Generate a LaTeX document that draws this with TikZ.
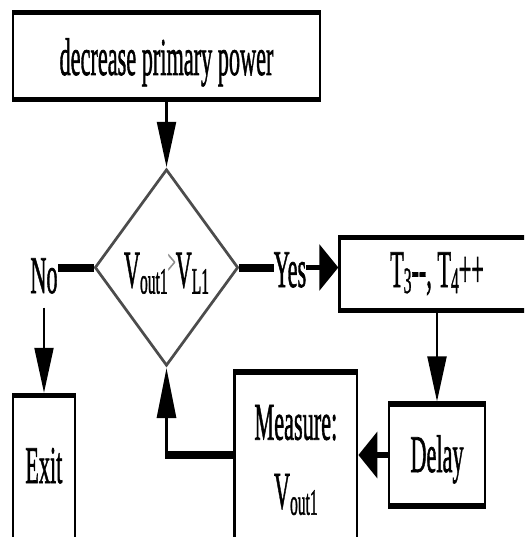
\documentclass[tikz,border=0pt]{standalone}
\usepackage{fontspec}
\setmainfont{Liberation Serif}[FakeBold=1.5]
\usetikzlibrary{arrows.meta,shapes.geometric}
\newcommand{\lowsub}[1]{\raisebox{-6pt}{\fontsize{37}{37}\selectfont #1}}
\begin{document}
\begin{tikzpicture}[x=1pt,y=-1pt]
\useasboundingbox (0,0) rectangle (524,537);
\fill[white] (0,0) rectangle (524,537);
\clip (0,0) rectangle (524,537);
\begin{scope}[transform canvas={xscale=0.42}, x=2.38095pt, y=-1pt,
  every node/.style={font=\fontsize{53}{63}\selectfont, inner sep=0pt},
  box/.style={draw, line width=5.5pt, rectangle, text depth=0pt},
  dec/.style={draw=black!70, line width=4pt, diamond, aspect=1.73},
  thinarrow/.style={line width=6pt, -{Triangle[length=45pt,width=45pt]}},
  thickline/.style={line width=8pt}]
  % nodes
  \node[box, minimum width=729.8pt, minimum height=87pt, text height=38pt] (top) at (166.5,56) {decrease primary power};
  \node[dec, minimum width=340.5pt, minimum height=197pt, text height=40pt, text depth=0pt] (dia) at (166.5,267.5)
    {V\lowsub{out1}{\color{black!45}\raisebox{14pt}{\fontsize{34}{34}\selectfont >}}V\lowsub{L1}};
  \node[anchor=base, inner ysep=14pt] (no) at (44,293) {No};
  \node[anchor=base] (yes) at (290,287) {Yes};
  \node[box, minimum width=464.3pt, minimum height=73pt, text height=26pt] (tbox) at (437,274) {T\lowsub{3}-{}-, T\lowsub{4}++};
  \node[box, minimum width=146.9pt, minimum height=149pt, text height=26pt] (exit) at (43.85,470) {Exit};
  \node[box, minimum width=229.8pt, minimum height=101.6pt, text height=34pt] (delay) at (437,455) {Delay};
  \node[draw, line width=5.5pt, rectangle, minimum width=292.1pt, minimum height=175.8pt, align=center] (measure) at (295.85,460) {Measure:\\[6pt]V\lowsub{out1}};
  % connectors
  \draw[thinarrow] (top.south) -- (top.south |- dia.north);
  \draw[thickline] (dia.west) -- (dia.west -| no.east);
  \draw[thickline] (dia.east) -- (dia.east -| yes.west);
  \draw[thinarrow, line width=5pt] (dia.east -| yes.east) -- (dia.east -| tbox.west);
  \draw[thinarrow] (no.south) -- (no.south |- exit.north);
  \draw[thinarrow] (tbox.south) -- (tbox.south |- delay.north);
  \draw[thinarrow] (delay.west) -- (delay.west -| measure.east);
  \draw[thickline, -{Triangle[length=50pt,width=45pt]}] (delay.west -| measure.west) -| (dia.south);
\end{scope}
\end{tikzpicture}
\end{document}
